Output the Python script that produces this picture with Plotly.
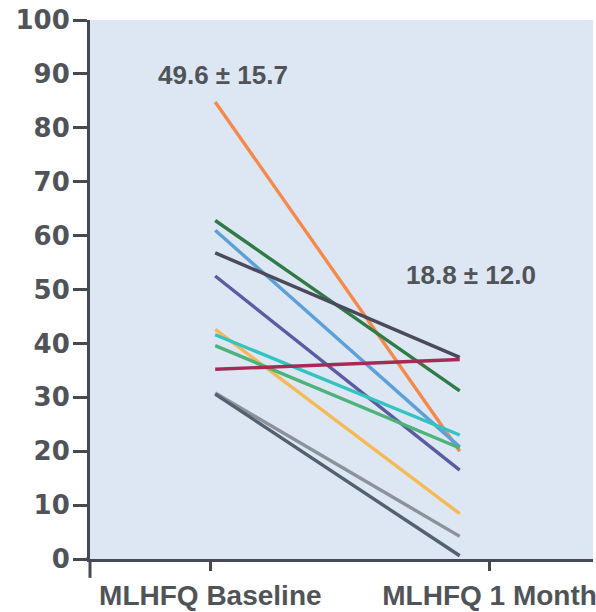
import plotly.graph_objects as go

# MLHFQ score per patient at baseline and after one month
time_points = ["MLHFQ Baseline", "MLHFQ 1 Month"]
baseline = [84.8, 62.8, 61.0, 56.8, 52.5, 42.6, 41.6, 39.6, 35.2, 30.8, 30.6]
one_month = [20.0, 31.2, 20.8, 37.4, 16.5, 8.4, 23.0, 20.6, 37.0, 4.2, 0.6]
line_colors = ["#f5894c", "#2f7a45", "#5d9fd8", "#4b4a5c", "#5b5aa3",
               "#f6b955", "#33c3c1", "#4fb27a", "#a62a55", "#8b929c", "#52606f"]

baseline_summary = "49.6 ± 15.7"
month_summary = "18.8 ± 12.0"
y_ticks = list(range(0, 101, 10))

text_color = "#505357"
axis_color = "#454a52"
label_font = "Liberation Sans, Arial, sans-serif"

fig = go.Figure()
for b, m, c in zip(baseline, one_month, line_colors):
    fig.add_trace(go.Scatter(
        x=[0, 1], y=[b, m], mode="lines",
        line=dict(color=c, width=3.4), hoverinfo="skip", showlegend=False,
    ))

fig.add_annotation(x=0.03, y=89.8, text=baseline_summary, showarrow=False,
                   font=dict(family=label_font, size=26, color=text_color, weight="bold"))
fig.add_annotation(x=1.045, y=52.7, text=month_summary, showarrow=False,
                   font=dict(family=label_font, size=26, color=text_color, weight="bold"))

# y axis continues a little below zero, x axis a little left of the y axis
fig.add_shape(type="line", xref="paper", yref="paper", x0=0, x1=0, y0=0, y1=-0.035,
              line=dict(color=axis_color, width=3))
fig.add_shape(type="line", xref="paper", yref="paper", x0=-0.008, x1=0, y0=0, y1=0,
              line=dict(color=axis_color, width=3))

fig.update_layout(
    width=596, height=612,
    margin=dict(l=90, r=0, t=20, b=53),
    paper_bgcolor="white",
    plot_bgcolor="#dce7f3",
    xaxis=dict(
        range=[-0.512, 1.545], showgrid=False, zeroline=False,
        showline=True, linecolor=axis_color, linewidth=3,
        ticks="outside", ticklen=9, tickwidth=3, tickcolor=axis_color,
        tickvals=[-0.02, 1.122], ticktext=time_points,
        tickfont=dict(family=label_font, size=28, color=text_color, weight="bold"),
        ticklabelstandoff=0, ticklabeloverflow="allow",
    ),
    yaxis=dict(
        range=[0, 100], showgrid=False, zeroline=False,
        showline=True, linecolor=axis_color, linewidth=3,
        ticks="outside", ticklen=14, tickwidth=3, tickcolor=axis_color,
        tickvals=y_ticks,
        tickfont=dict(family="DejaVu Sans", size=26, color=text_color, weight="bold"),
        ticklabelstandoff=-2,
    ),
)

fig.write_html("out.html")
